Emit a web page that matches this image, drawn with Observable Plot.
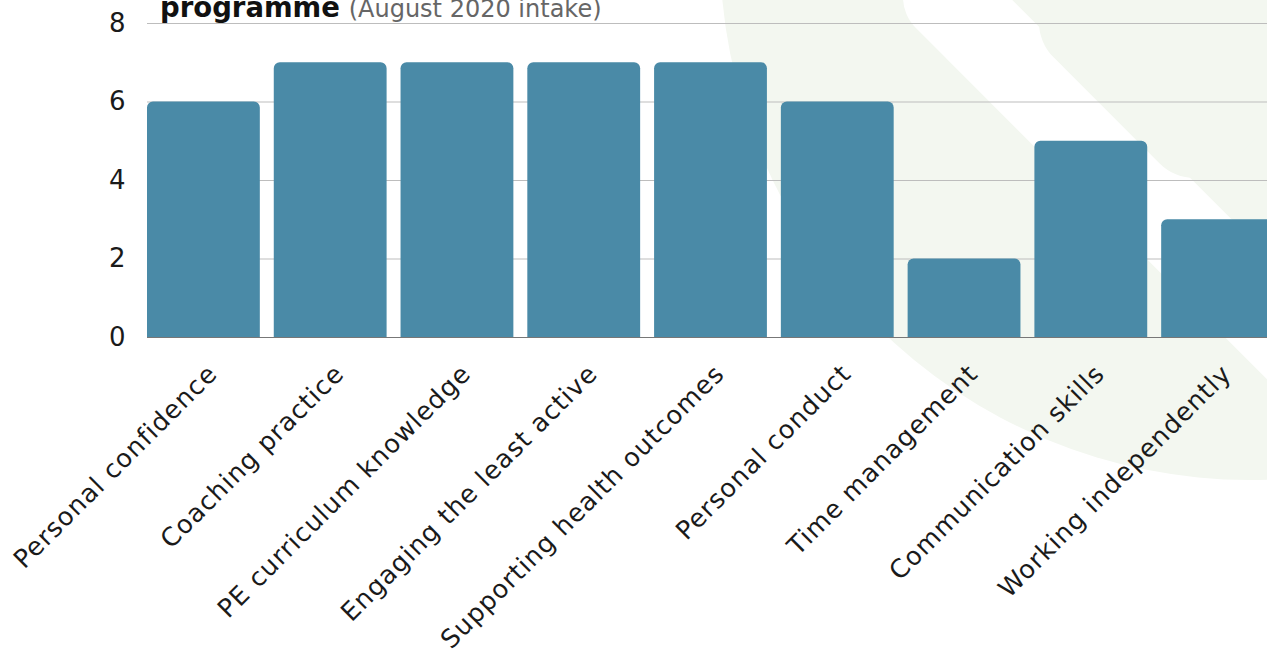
<!DOCTYPE html>
<html><head><meta charset="utf-8">
<script src="https://cdn.jsdelivr.net/npm/d3@7"></script>
<script src="https://cdn.jsdelivr.net/npm/@observablehq/plot@0.6"></script>
<style>
html,body{margin:0;padding:0;background:#fff;overflow:hidden;width:1267px;height:659px;position:relative;}
#bg{position:absolute;left:0;top:0;width:1267px;height:659px;overflow:hidden;z-index:0;}
#bg .circle{position:absolute;left:720px;top:-580px;width:1060px;height:1060px;border-radius:50%;background:#f3f7f0;}
#bg .band{position:absolute;left:903px;top:-47px;width:700px;height:88px;border-radius:44px;background:#fff;transform-origin:44px 44px;transform:rotate(45deg);}
#bg .diamond{position:absolute;left:1070px;top:-103px;width:250px;height:250px;border-radius:50px;background:#f3f7f0;transform:rotate(45deg);}
#title{position:absolute;left:160px;top:-6px;font-family:"DejaVu Sans",sans-serif;font-size:27.5px;line-height:27.5px;white-space:nowrap;z-index:2;color:#111;}
#title b{font-weight:bold;}
#title span{font-size:24px;color:#666;font-weight:normal;}
#chart{position:absolute;left:0;top:0;z-index:1;}
</style>
</head><body>
<div id="bg"><div class="circle"></div><div class="band"></div><div class="diamond"></div></div>
<div id="title"><b>programme</b> <span>(August 2020 intake)</span></div>
<div id="chart"></div>
<script>
const skills = ["Personal confidence","Coaching practice","PE curriculum knowledge","Engaging the least active","Supporting health outcomes","Personal conduct","Time management","Communication skills","Working independently"];
const counts = [6,7,7,7,7,6,2,5,3];
const yTicks = [0,2,4,6,8];
const data = skills.map((s,i)=>({skill:s,count:counts[i]}));

const chart = Plot.plot({
  width: 1290, height: 659,
  marginTop: 23, marginBottom: 322, marginLeft: 147, marginRight: 16,
  style: {background:"transparent", maxWidth:"none", fontFamily:"DejaVu Sans, sans-serif", fontSize:"26px", color:"#1a1a1a", overflow:"visible"},
  x: {domain: skills, paddingInner: 0.11, paddingOuter: 0, round: false, label: null},
  y: {domain:[0,8], label:null},
  marks: [
    Plot.gridY(yTicks, {stroke:"#bdbdbd", strokeOpacity:1}),
    Plot.barY(data, {x:"skill", y:"count", fill:"#4a8aa7", ry1:6, inset:0}),
    Plot.ruleY([0], {stroke:"#777"}),
    Plot.axisY(yTicks, {tickSize:0, tickPadding:22, label:null, fontSize:26}),
    Plot.axisX({tickSize:0, tickRotate:-45, tickPadding:32, dx:9, label:null, fontSize:25.5})
  ]
});
document.getElementById("chart").appendChild(chart);
d3.select(chart).selectAll('g[aria-label="x-axis tick label"] text').style("letter-spacing","1px");
</script>
</body></html>
